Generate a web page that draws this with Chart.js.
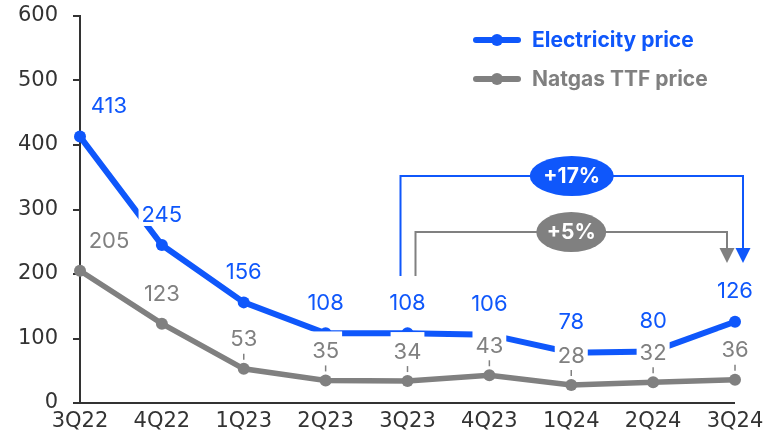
<!DOCTYPE html>
<html>
<head>
<meta charset="utf-8">
<script src="https://cdn.jsdelivr.net/npm/chart.js@4.4.0/dist/chart.umd.min.js"></script>
<style>
html,body{margin:0;padding:0;background:#fff;}
#c{display:block;}
</style>
</head>
<body>
<canvas id="c" width="766" height="442"></canvas>
<script>
const categories = ['3Q22','4Q22','1Q23','2Q23','3Q23','4Q23','1Q24','2Q24','3Q24'];
const electricity = [413,245,156,108,108,106,78,80,126];
const natgas = [205,123,53,35,34,43,28,32,36];
const yTicks = [0,100,200,300,400,500,600];
const seriesNames = ['Electricity price','Natgas TTF price'];
const changeLabels = ['+17%','+5%'];

const BLUE = '#0F57FB';
const GRAY = '#808080';
const AXIS = '#333333';
const FONT = '"DejaVu Sans", sans-serif';
const LFONT = 'Inter, "Noto Sans", sans-serif';

const axisLinePlugin = {
  id: 'axisLine',
  beforeDatasetsDraw(chart) {
    const {ctx, chartArea} = chart;
    ctx.save();
    ctx.strokeStyle = AXIS;
    ctx.lineWidth = 2;
    ctx.beginPath();
    ctx.moveTo(chartArea.left - 7, chartArea.bottom);
    ctx.lineTo(chartArea.right, chartArea.bottom);
    ctx.stroke();
    ctx.restore();
  }
};

const labelsPlugin = {
  id: 'valueLabels',
  afterDatasetsDraw(chart) {
    const {ctx} = chart;
    ctx.save();
    ctx.font = '22px ' + LFONT;
    ctx.textAlign = 'center';
    ctx.textBaseline = 'middle';
    [0, 1].forEach(di => {
      const ds = chart.data.datasets[di];
      const meta = chart.getDatasetMeta(di);
      meta.data.forEach((pt, i) => {
        const txt = String(ds.data[i]);
        const x = pt.x + (i === 0 ? 29 : 0);
        const y = pt.y - (di === 0 ? 30 : 31);
        const w = ctx.measureText(txt).width;
        ctx.fillStyle = '#fff';
        ctx.fillRect(x - w / 2 - 3, y - 19, w + 6, 31);
        ctx.fillStyle = ds.borderColor;
        ctx.fillText(txt, x, y + 1);
        if (di === 0 && i >= 2) {
          ctx.strokeStyle = GRAY;
          ctx.lineWidth = 1.5;
          ctx.beginPath();
          ctx.moveTo(pt.x, pt.y - 15);
          ctx.lineTo(pt.x, pt.y - 9);
          ctx.stroke();
        }
      });
    });
    ctx.restore();
  }
};

const annotPlugin = {
  id: 'annot',
  afterDraw(chart) {
    const {ctx} = chart;
    const xs = chart.scales.x, ys = chart.scales.y;
    const x0 = xs.getPixelForValue(4), x1 = xs.getPixelForValue(8);
    const bottom = ys.getPixelForValue(197);
    const tip = ys.getPixelForValue(217);
    const brackets = [
      {color: BLUE, left: x0 - 7, right: x1 + 8, level: ys.getPixelForValue(352), rx: 42, text: changeLabels[0]},
      {color: GRAY, left: x0 + 8, right: x1 - 8, level: ys.getPixelForValue(265), rx: 35, text: changeLabels[1]}
    ];
    ctx.save();
    brackets.forEach(b => {
      ctx.strokeStyle = b.color;
      ctx.fillStyle = b.color;
      ctx.lineWidth = 2;
      ctx.beginPath();
      ctx.moveTo(b.left, bottom);
      ctx.lineTo(b.left, b.level);
      ctx.lineTo(b.right, b.level);
      ctx.lineTo(b.right, tip - 14);
      ctx.stroke();
      ctx.beginPath();
      ctx.moveTo(b.right - 7.5, tip - 15);
      ctx.lineTo(b.right + 7.5, tip - 15);
      ctx.lineTo(b.right, tip);
      ctx.closePath();
      ctx.fill();
      const cx = (b.left + b.right) / 2;
      ctx.beginPath();
      ctx.ellipse(cx, b.level, b.rx, 20, 0, 0, Math.PI * 2);
      ctx.fill();
      ctx.fillStyle = '#fff';
      ctx.font = 'bold 21px ' + LFONT;
      ctx.textAlign = 'center';
      ctx.textBaseline = 'middle';
      ctx.fillText(b.text, cx, b.level + 1);
    });
    const items = [
      {name: seriesNames[0], color: BLUE, y: 40},
      {name: seriesNames[1], color: GRAY, y: 79}
    ];
    items.forEach(it => {
      ctx.strokeStyle = it.color;
      ctx.fillStyle = it.color;
      ctx.lineWidth = 6;
      ctx.lineCap = 'round';
      ctx.beginPath();
      ctx.moveTo(476, it.y);
      ctx.lineTo(518, it.y);
      ctx.stroke();
      ctx.beginPath();
      ctx.arc(497, it.y, 6, 0, Math.PI * 2);
      ctx.fill();
      ctx.font = 'bold 21px ' + LFONT;
      ctx.textAlign = 'left';
      ctx.textBaseline = 'middle';
      ctx.fillText(it.name, 532, it.y + 1);
    });
    ctx.restore();
  }
};

new Chart(document.getElementById('c'), {
  type: 'line',
  data: {
    labels: categories,
    datasets: [
      {label: seriesNames[1], data: natgas, borderColor: GRAY, backgroundColor: GRAY,
       borderWidth: 5.5, pointRadius: 6, pointBackgroundColor: GRAY, pointBorderWidth: 0, tension: 0},
      {label: seriesNames[0], data: electricity, borderColor: BLUE, backgroundColor: BLUE,
       borderWidth: 6, pointRadius: 6, pointBackgroundColor: BLUE, pointBorderWidth: 0, tension: 0}
    ]
  },
  options: {
    responsive: false,
    animation: false,
    devicePixelRatio: 1,
    layout: {padding: {top: 16, right: 31, left: 0, bottom: 0}},
    plugins: {legend: {display: false}, tooltip: {enabled: false}},
    scales: {
      x: {
        offset: false,
        grid: {display: false, drawTicks: false},
        border: {display: false},
        ticks: {color: AXIS, font: {family: FONT, size: 21}, padding: 6, maxRotation: 0, autoSkip: false},
        afterFit(s) { s.height = 39; s.paddingLeft = 0; s.paddingRight = 0; }
      },
      y: {
        min: 0, max: 600,
        afterBuildTicks(s) { s.ticks = yTicks.map(v => ({value: v})); },
        grid: {drawOnChartArea: false, tickLength: 7, color: AXIS, lineWidth: 2},
        border: {display: true, color: AXIS, width: 2},
        ticks: {color: AXIS, font: {family: FONT, size: 21}, padding: 15},
        afterFit(s) { s.width = 80; s.paddingTop = 0; s.paddingBottom = 0; }
      }
    }
  },
  plugins: [axisLinePlugin, labelsPlugin, annotPlugin]
});
</script>
</body>
</html>
